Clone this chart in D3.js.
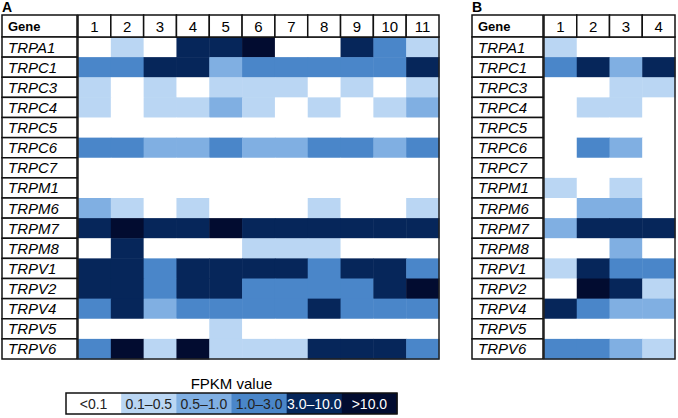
<!DOCTYPE html>
<html>
<head>
<meta charset="utf-8">
<script src="https://cdn.jsdelivr.net/npm/d3@7"></script>
<style>
  html, body { margin: 0; padding: 0; background: #fff; }
  svg { display: block; font-family: "Liberation Sans", Arial, sans-serif; }
  .gene { font-style: italic; font-size: 15px; }
  .head { font-size: 15px; }
  .panel-label { font-weight: bold; font-size: 14px; }
</style>
</head>
<body>
<div id="chart"></div>
<script>
// Data
const genes = ["TRPA1", "TRPC1", "TRPC3", "TRPC4", "TRPC5", "TRPC6", "TRPC7", "TRPM1",
  "TRPM6", "TRPM7", "TRPM8", "TRPV1", "TRPV2", "TRPV4", "TRPV5", "TRPV6"];
const levelLabels = ["<0.1", "0.1\u20130.5", "0.5\u20131.0", "1.0\u20133.0", "3.0\u201310.0", ">10.0"];
const colsA = ["1", "2", "3", "4", "5", "6", "7", "8", "9", "10", "11"];
const colsB = ["1", "2", "3", "4"];
// FPKM level index (0 = <0.1 ... 5 = >10.0), one row per gene
const levelsA = [
  [0, 1, 0, 4, 4, 5, 0, 0, 4, 3, 1],
  [3, 3, 4, 4, 2, 3, 3, 3, 3, 3, 4],
  [1, 0, 1, 0, 1, 1, 1, 0, 1, 0, 1],
  [1, 0, 1, 1, 2, 1, 0, 1, 0, 1, 2],
  [0, 0, 0, 0, 0, 0, 0, 0, 0, 0, 0],
  [3, 3, 2, 2, 3, 2, 2, 3, 3, 2, 3],
  [0, 0, 0, 0, 0, 0, 0, 0, 0, 0, 0],
  [0, 0, 0, 0, 0, 0, 0, 0, 0, 0, 0],
  [2, 1, 0, 1, 0, 0, 0, 1, 0, 0, 1],
  [4, 5, 4, 4, 5, 4, 4, 4, 4, 4, 4],
  [0, 4, 0, 0, 0, 1, 1, 1, 0, 0, 0],
  [4, 4, 3, 4, 4, 4, 4, 3, 4, 4, 3],
  [4, 4, 3, 4, 4, 3, 3, 3, 3, 4, 5],
  [3, 4, 2, 3, 3, 3, 3, 4, 3, 3, 3],
  [0, 0, 0, 0, 1, 0, 0, 0, 0, 0, 0],
  [3, 5, 1, 5, 1, 1, 1, 4, 4, 4, 3]
];
const levelsB = [
  [1, 0, 0, 0],
  [3, 4, 2, 4],
  [0, 0, 1, 1],
  [0, 1, 1, 0],
  [0, 0, 0, 0],
  [0, 3, 2, 0],
  [0, 0, 0, 0],
  [1, 0, 1, 0],
  [0, 2, 2, 0],
  [2, 4, 4, 4],
  [0, 0, 2, 0],
  [1, 4, 3, 3],
  [0, 5, 4, 1],
  [4, 3, 2, 2],
  [0, 0, 0, 0],
  [3, 3, 2, 1]
];

const COLORS = ["#ffffff", "#bad6f3", "#80afe2", "#4a86c9", "#06265a", "#020c30"];
const color = d3.scaleOrdinal().domain(d3.range(6)).range(COLORS);

const W = 678, H = 418;
const svg = d3.select("#chart").append("svg")
  .attr("width", W).attr("height", H);

const headTop = 15, headBot = 37, bodyBot = 359;

function panel(label, left, geneRight, right, cols, levels) {
  const g = svg.append("g");
  const x = d3.scaleBand().domain(cols).range([geneRight + 1, right]);
  const y = d3.scaleBand().domain(genes).range([headBot, bodyBot]);

  g.append("text").attr("class", "panel-label")
    .attr("x", left).attr("y", 12).text(label);

  // heat cells
  const cells = [];
  genes.forEach((gene, r) => cols.forEach((c, ci) => cells.push({ gene, col: c, v: levels[r][ci] })));
  g.selectAll(".cell").data(cells).join("rect")
    .attr("x", d => x(d.col))
    .attr("y", d => y(d.gene))
    .attr("width", x.bandwidth() + 0.5)
    .attr("height", y.bandwidth() + 0.5)
    .attr("fill", d => color(d.v));

  // outer border of data area
  g.append("rect")
    .attr("x", x.range()[0]).attr("y", headBot)
    .attr("width", right - x.range()[0]).attr("height", bodyBot - headBot)
    .attr("fill", "none").attr("stroke", "#222").attr("stroke-width", 1.5);

  // header cells
  g.append("rect")
    .attr("x", left).attr("y", headTop)
    .attr("width", geneRight - left).attr("height", headBot - headTop)
    .attr("fill", "#fff").attr("stroke", "#111").attr("stroke-width", 1.5);
  g.append("text")
    .attr("x", left + 6).attr("y", (headTop + headBot) / 2 + 5)
    .attr("font-size", 13).attr("font-weight", "bold").text("Gene");

  g.selectAll(".hcell").data(cols).join("rect")
    .attr("x", d => x(d)).attr("y", headTop)
    .attr("width", x.bandwidth()).attr("height", headBot - headTop)
    .attr("fill", "#fff").attr("stroke", "#111").attr("stroke-width", 1.5);
  g.selectAll(".htext").data(cols).join("text").attr("class", "head")
    .attr("x", d => x(d) + x.bandwidth() / 2)
    .attr("y", (headTop + headBot) / 2 + 5.5)
    .attr("text-anchor", "middle").text(d => d);

  // gene name cells
  g.selectAll(".gcell").data(genes).join("rect")
    .attr("x", left).attr("y", d => y(d))
    .attr("width", geneRight - left).attr("height", y.bandwidth())
    .attr("fill", "#fff").attr("stroke", "#111").attr("stroke-width", 1.5);
  g.selectAll(".gtext").data(genes).join("text").attr("class", "gene")
    .attr("x", left + 6).attr("y", d => y(d) + y.bandwidth() / 2 + 5.5)
    .text(d => d);
}

panel("A", 2, 77, 439, colsA, levelsA);
panel("B", 472, 543, 675, colsB, levelsB);

// Legend
const lx = d3.scaleBand().domain(levelLabels).range([66, 397]);
const lg = svg.append("g");
lg.append("text")
  .attr("x", (66 + 397) / 2).attr("y", 389)
  .attr("text-anchor", "middle").attr("font-size", 15)
  .text("FPKM value");
lg.selectAll("rect.sw").data(levelLabels).join("rect")
  .attr("x", d => lx(d)).attr("y", 393)
  .attr("width", lx.bandwidth() + 0.5).attr("height", 21)
  .attr("fill", (d, i) => color(i));
lg.selectAll("text.sw").data(levelLabels).join("text")
  .attr("x", d => lx(d) + lx.bandwidth() / 2).attr("y", 408.5)
  .attr("text-anchor", "middle").attr("font-size", 14)
  .attr("fill", (d, i) => i >= 4 ? "#fff" : "#222")
  .text(d => d);
lg.append("rect")
  .attr("x", 66).attr("y", 393).attr("width", 397 - 66).attr("height", 21)
  .attr("fill", "none").attr("stroke", "#111").attr("stroke-width", 1.5);
</script>
</body>
</html>
